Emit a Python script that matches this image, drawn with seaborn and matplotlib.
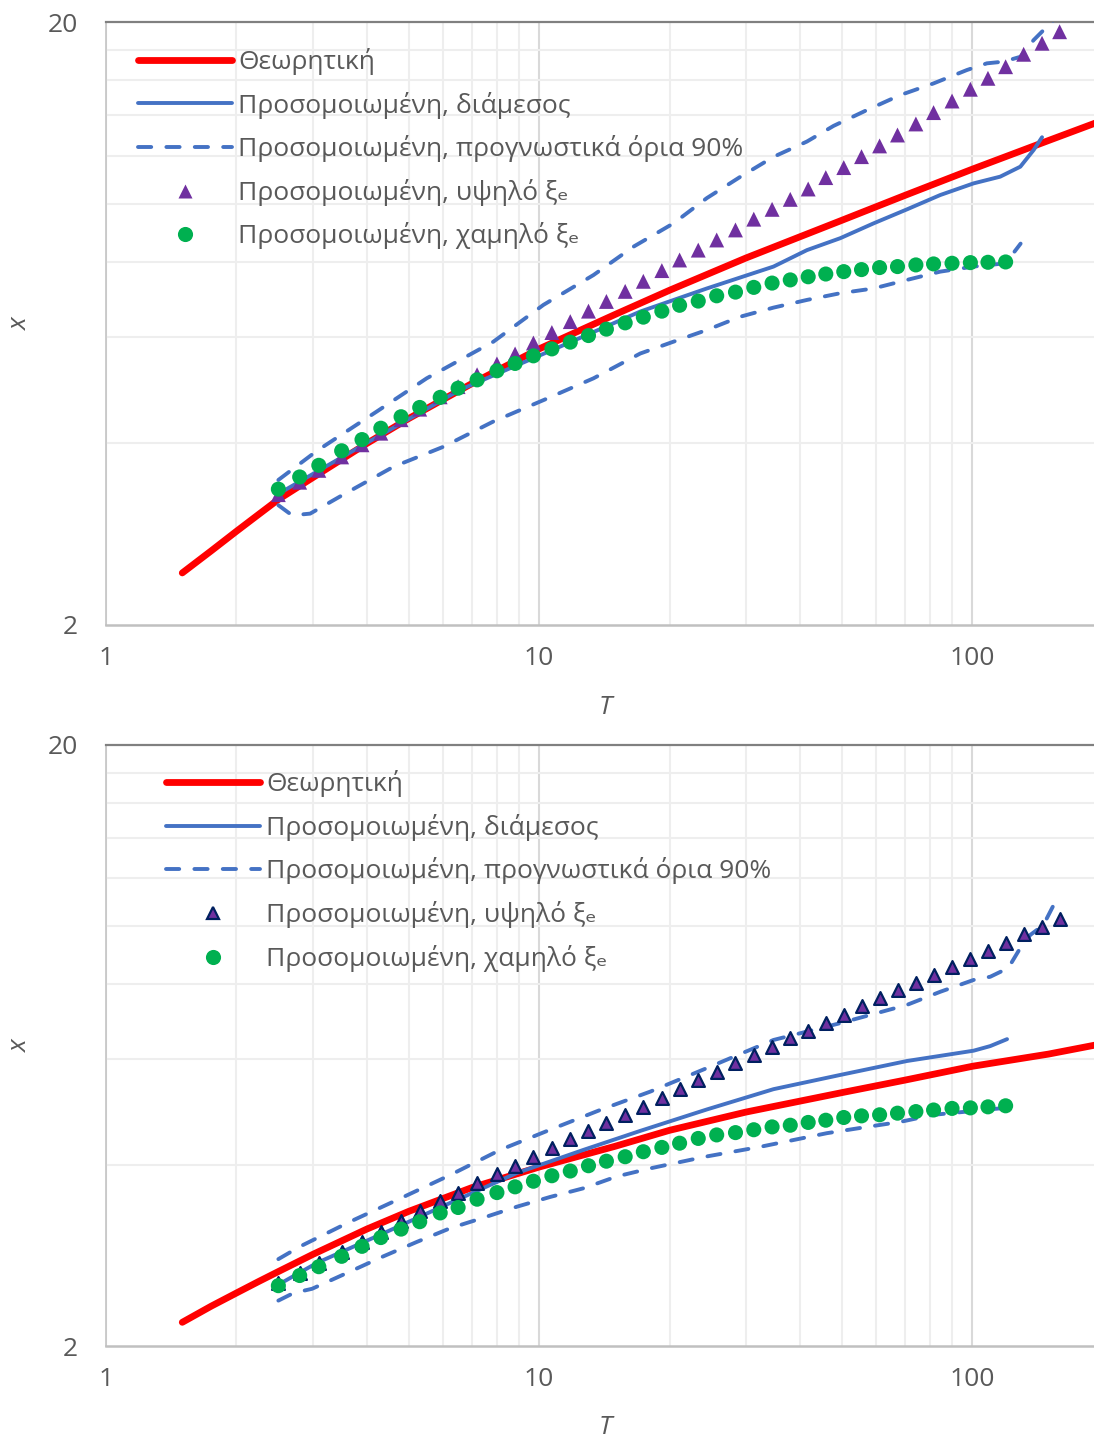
import matplotlib
matplotlib.use("Agg")
import matplotlib.pyplot as plt
from matplotlib.lines import Line2D
from matplotlib.ticker import FixedLocator, NullFormatter
import seaborn as sns

sns.set_style("white")
plt.rcParams['font.family'] = ['Open Sans', 'DejaVu Sans']

# ---------------------------------------------------------------- data
# return periods of the simulated series (markers)
T_pts = [2.50, 2.80, 3.10, 3.50, 3.90, 4.31, 4.80, 5.30, 5.91, 6.50, 7.19,
         7.99, 8.80, 9.70, 10.7, 11.8, 13.0, 14.3, 15.8, 17.4, 19.2, 21.1,
         23.3, 25.7, 28.4, 31.3, 34.5, 38.0, 41.8, 45.9, 50.5, 55.5, 61.1,
         67.2, 74.1, 81.4, 89.8, 99.0, 108.7, 119.4, 131.4, 144.9, 159.1]
T_low = T_pts[:40]

# theoretical curves
T_theory = [1.5, 1.75, 2, 2.25, 2.5, 3, 4, 5, 7, 10, 15, 20, 30, 50, 70,
            100, 150, 200]
theory_top = [2.44, 2.655, 2.86, 3.05, 3.23, 3.51, 4.00, 4.40, 5.03, 5.74,
              6.55, 7.18, 8.12, 9.38, 10.32, 11.40, 12.72, 13.74]
theory_bot = [2.19, 2.33, 2.45, 2.56, 2.66, 2.84, 3.13, 3.35, 3.67, 3.97,
              4.30, 4.57, 4.90, 5.28, 5.54, 5.84, 6.12, 6.37]

# ---- upper panel
high_top = [3.29, 3.45, 3.61, 3.80, 3.98, 4.16, 4.38, 4.56, 4.78, 4.97, 5.20,
            5.42, 5.63, 5.87, 6.11, 6.37, 6.63, 6.88, 7.15, 7.43, 7.74, 8.06,
            8.37, 8.70, 9.04, 9.42, 9.78, 10.16, 10.57, 11.04, 11.47, 11.96,
            12.46, 12.99, 13.55, 14.15, 14.79, 15.47, 16.13, 16.86, 17.68,
            18.44, 19.27]
low_top = [3.36, 3.52, 3.68, 3.89, 4.06, 4.24, 4.43, 4.59, 4.77, 4.94, 5.10,
           5.28, 5.43, 5.59, 5.74, 5.89, 6.04, 6.19, 6.34, 6.48, 6.63, 6.78,
           6.89, 7.03, 7.13, 7.26, 7.38, 7.47, 7.56, 7.64, 7.71, 7.77, 7.83,
           7.86, 7.91, 7.94, 7.96, 7.98, 7.99, 8.00]
T_med_top = [2.5, 3.86, 6.57, 11.18, 17.12, 24.39, 34.76, 41.52, 49.57, 59.17,
             70.68, 84.35, 100.7, 116.0, 129.1, 138.6, 144.9]
med_top = [3.30, 3.95, 4.91, 5.79, 6.62, 7.23, 7.86, 8.37, 8.76, 9.27, 9.78,
           10.33, 10.80, 11.08, 11.51, 12.27, 12.88]
T_up_top = [2.5, 3.07, 4.22, 5.50, 7.84, 10.23, 13.35, 16.51, 20.42, 24.39,
            29.12, 34.76, 41.52, 47.83, 57.14, 68.19, 81.40, 97.21, 108.1,
            118.1, 129.1, 138.6, 154.1]
up_top = [3.48, 3.89, 4.52, 5.13, 5.90, 6.79, 7.61, 8.48, 9.27, 10.21, 11.07,
          11.95, 12.67, 13.45, 14.29, 15.13, 15.82, 16.65, 17.08, 17.19, 17.51,
          18.67, 20.15]
T_lo_top = [2.5, 2.69, 2.96, 3.53, 4.61, 6.01, 7.84, 10.23, 13.35, 17.12,
            20.42, 24.39, 29.12, 34.76, 41.52, 49.57, 59.17, 70.68, 84.35,
            100.7, 119.4, 129.3]
lo_top = [3.16, 3.04, 3.06, 3.29, 3.66, 3.95, 4.35, 4.72, 5.13, 5.64, 5.90,
          6.17, 6.49, 6.72, 6.92, 7.10, 7.23, 7.47, 7.71, 7.86, 7.96, 8.58]

# ---- lower panel
high_bot = [2.55, 2.65, 2.75, 2.87, 2.98, 3.10, 3.23, 3.35, 3.48, 3.59, 3.73,
            3.86, 3.99, 4.13, 4.27, 4.42, 4.55, 4.70, 4.85, 5.00, 5.17, 5.35,
            5.54, 5.72, 5.91, 6.10, 6.30, 6.50, 6.69, 6.90, 7.11, 7.36, 7.58,
            7.82, 8.05, 8.29, 8.55, 8.81, 9.08, 9.38, 9.68, 9.97, 10.26]
low_bot = [2.52, 2.62, 2.71, 2.82, 2.93, 3.03, 3.13, 3.22, 3.33, 3.40, 3.51,
           3.60, 3.68, 3.76, 3.84, 3.91, 3.99, 4.06, 4.13, 4.21, 4.28, 4.35,
           4.43, 4.49, 4.53, 4.58, 4.63, 4.66, 4.71, 4.75, 4.80, 4.83, 4.85,
           4.88, 4.91, 4.94, 4.97, 4.98, 5.00, 5.02]
T_med_bot = [2.5, 3.07, 4.37, 6.23, 8.88, 12.66, 17.12, 24.39, 34.76, 49.57,
             70.68, 100.7, 110.0, 120.3]
med_bot = [2.53, 2.75, 3.08, 3.46, 3.88, 4.24, 4.56, 4.95, 5.35, 5.65, 5.96,
           6.20, 6.31, 6.48]
T_up_bot = [2.5, 2.81, 3.66, 4.78, 6.23, 8.13, 10.6, 13.83, 18.05, 24.39,
            34.76, 49.57, 70.68, 84.35, 100.7, 110.0, 121.1, 129.1, 136.1,
            145.9, 158.0]
up_bot = [2.79, 2.93, 3.22, 3.52, 3.85, 4.24, 4.58, 4.94, 5.30, 5.80, 6.46,
          6.89, 7.39, 7.77, 8.13, 8.23, 8.51, 9.19, 9.66, 10.03, 11.22]
T_lo_bot = [2.5, 2.71, 2.99, 3.66, 4.37, 5.22, 6.23, 7.44, 8.88, 10.6, 12.66,
            15.12, 18.05, 24.17, 32.39, 46.17, 57.14, 68.19, 81.4, 97.21, 119.1]
lo_bot = [2.38, 2.45, 2.49, 2.66, 2.82, 2.98, 3.14, 3.27, 3.41, 3.54, 3.66,
          3.83, 3.95, 4.13, 4.29, 4.52, 4.63, 4.72, 4.85, 4.91, 4.98]

labels = ['Θεωρητική',
          'Προσομοιωμένη, διάμεσος',
          'Προσομοιωμένη, προγνωστικά όρια 90%',
          'Προσομοιωμένη, υψηλό ξₑ',
          'Προσομοιωμένη, χαμηλό ξₑ']
x_ticks = [1, 10, 100]
x_ticklabels = ['1', '10', '100']
y_ticks = [2, 20]
y_ticklabels = ['2', '20']

# ---------------------------------------------------------------- style
RED = '#ff0000'
BLUE = '#4472c4'
GREEN = '#00b050'
PURPLE = '#7030a0'
NAVY = '#002060'
TXT = '#595959'
FS = 19
LW_RED = 4.9
LW_BLUE = 2.8
DASH = (3.4, 3.9)


def style_axes(ax):
    ax.set_xscale('log')
    ax.set_yscale('log')
    ax.set_xlim(1, 191)
    ax.set_ylim(2, 20)
    ax.xaxis.set_major_locator(FixedLocator(x_ticks))
    ax.xaxis.set_minor_locator(FixedLocator([2, 3, 4, 5, 6, 7, 8, 9,
                                             20, 30, 40, 50, 60, 70, 80, 90]))
    ax.yaxis.set_major_locator(FixedLocator(y_ticks))
    ax.yaxis.set_minor_locator(FixedLocator([4, 6, 8, 10, 12, 14, 16, 18]))
    ax.set_xticklabels(x_ticklabels)
    ax.set_yticklabels(y_ticklabels)
    ax.xaxis.set_minor_formatter(NullFormatter())
    ax.yaxis.set_minor_formatter(NullFormatter())
    ax.tick_params(which='both', length=0, labelsize=FS, labelcolor=TXT)
    ax.tick_params(axis='x', pad=15)
    ax.tick_params(axis='y', pad=20)
    ax.grid(which='minor', color='#eeeeee', linewidth=1.5)
    ax.grid(which='major', axis='x', color='#d9d9d9', linewidth=1.5)
    ax.grid(which='major', axis='y', visible=False)
    ax.set_axisbelow(True)
    ax.spines['right'].set_visible(False)
    ax.spines['top'].set_color('#808080')
    ax.spines['top'].set_linewidth(1.6)
    ax.spines['left'].set_color('#c8c8c8')
    ax.spines['left'].set_linewidth(1.3)
    ax.spines['bottom'].set_color('#c0c0c0')
    ax.spines['bottom'].set_linewidth(1.8)
    ax.set_xlabel('T', fontstyle='italic', fontsize=FS, color=TXT,
                  va='center', ha='center')
    ax.xaxis.set_label_coords(0.505, -0.136)
    ax.set_ylabel('x', fontstyle='italic', fontsize=FS, color=TXT,
                  va='center', ha='center', rotation=90)
    ax.yaxis.set_label_coords(-86 / 988, 0.5)


def draw_panel(ax, th, T_med, med, T_up, up, T_lo, lo, high, low, tri_edge):
    kw = dict(ax=ax, estimator=None, sort=False, legend=False)
    sns.lineplot(x=T_theory, y=th, color=RED, linewidth=LW_RED,
                 solid_capstyle='round', solid_joinstyle='round', zorder=3,
                 **kw)
    sns.lineplot(x=T_med, y=med, color=BLUE, linewidth=LW_BLUE,
                 solid_capstyle='round', solid_joinstyle='round', zorder=4,
                 **kw)
    for tt, vv in ((T_up, up), (T_lo, lo)):
        sns.lineplot(x=tt, y=vv, color=BLUE, linewidth=LW_BLUE,
                     zorder=4, **kw)
        ax.lines[-1].set_dashes(DASH)
        ax.lines[-1].set_dash_capstyle('round')
        ax.lines[-1].set_dash_joinstyle('round')
    if tri_edge:
        sns.scatterplot(x=T_pts, y=high, ax=ax, marker='^', s=85,
                        color=PURPLE, edgecolor=NAVY, linewidth=1.6,
                        zorder=5, legend=False)
    else:
        sns.scatterplot(x=T_pts, y=high, ax=ax, marker='^', s=115,
                        color=PURPLE, edgecolor='none', linewidth=0,
                        zorder=5, legend=False)
    sns.scatterplot(x=T_low, y=low, ax=ax, marker='o', s=118, color=GREEN,
                    edgecolor='none', linewidth=0, zorder=6, legend=False)

    if tri_edge:
        tri = Line2D([], [], ls='none', marker='^', ms=9.2, mfc=PURPLE,
                     mec=NAVY, mew=1.6)
    else:
        tri = Line2D([], [], ls='none', marker='^', ms=10.7, mfc=PURPLE,
                     mec='none')
    handles = [
        Line2D([], [], color=RED, lw=LW_RED, solid_capstyle='round'),
        Line2D([], [], color=BLUE, lw=LW_BLUE, solid_capstyle='round'),
        Line2D([], [], color=BLUE, lw=LW_BLUE, dashes=DASH,
               dash_capstyle='round'),
        tri,
        Line2D([], [], ls='none', marker='o', ms=10.9, mfc=GREEN, mec='none'),
    ]
    return handles


fig = plt.figure(figsize=(10.94, 14.39), dpi=100)
ax_top = fig.add_axes([106 / 1094, 1 - 625 / 1439, 988 / 1094, 603 / 1439])
ax_bot = fig.add_axes([106 / 1094, 1 - 1346 / 1439, 988 / 1094, 601 / 1439])

for ax in (ax_top, ax_bot):
    style_axes(ax)

h_top = draw_panel(ax_top, theory_top, T_med_top, med_top,
                   T_up_top, up_top, T_lo_top, lo_top, high_top, low_top,
                   tri_edge=False)
h_bot = draw_panel(ax_bot, theory_bot, T_med_bot, med_bot,
                   T_up_bot, up_bot, T_lo_bot, lo_bot, high_bot, low_bot,
                   tri_edge=True)

for ax, hh, anchor in ((ax_top, h_top, (32 / 988, 0.957)),
                       (ax_bot, h_bot, (60 / 988, 0.958))):
    ax.legend(hh, labels, loc='upper left', bbox_to_anchor=anchor,
              frameon=False, borderpad=0, borderaxespad=0,
              handlelength=3.56, handletextpad=0.23, labelspacing=0.63,
              fontsize=FS, labelcolor=TXT)

fig.savefig('out.png', dpi=100)
